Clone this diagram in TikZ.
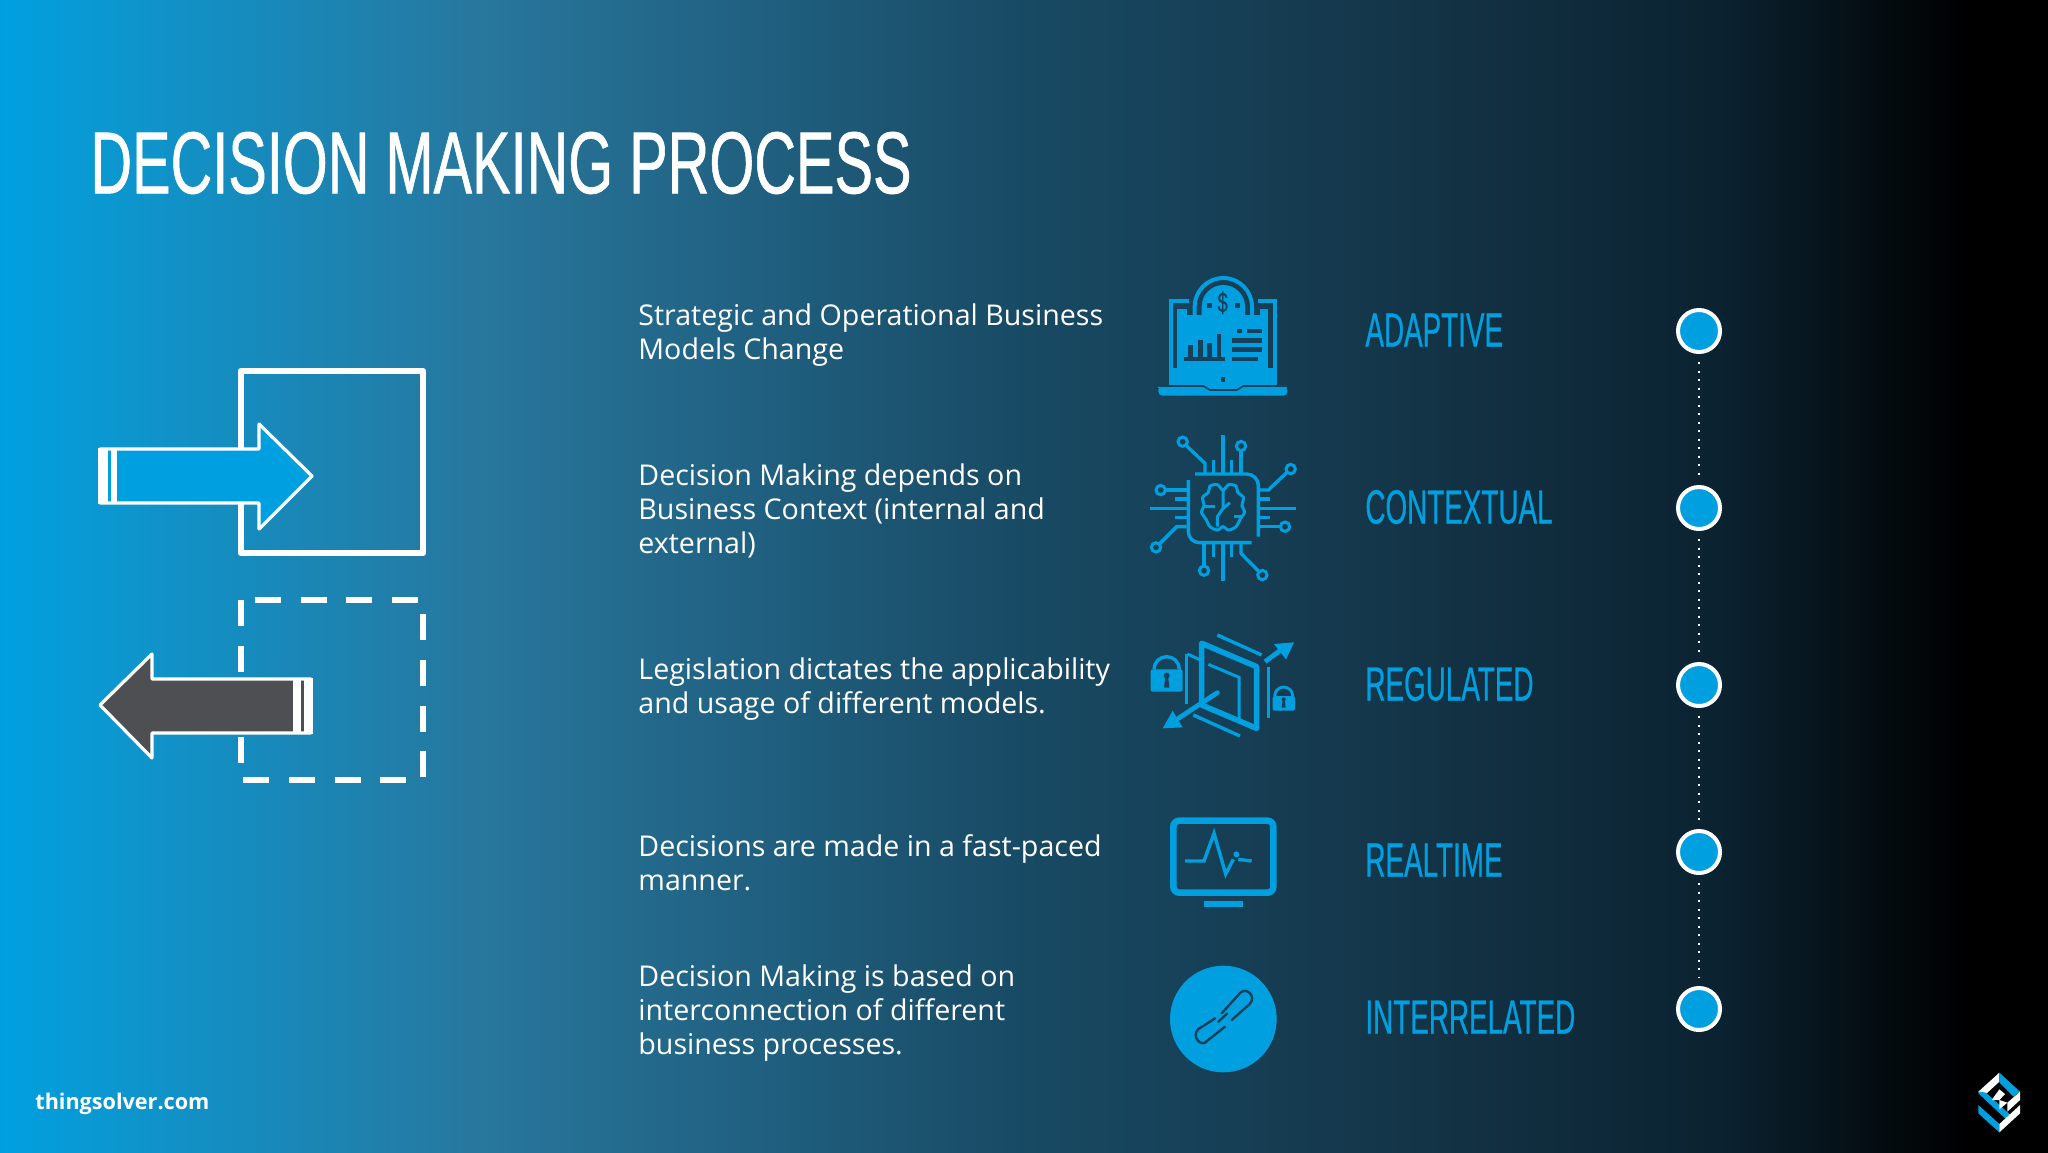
\documentclass[tikz,border=0pt]{standalone}
\usepackage{fontspec}
\setmainfont{Open Sans}
\newfontfamily\headfont[FakeStretch=0.656,FakeBold=0.6]{Liberation Sans}
\newfontfamily\tagfont[FakeStretch=0.58,FakeBold=0.5]{Liberation Sans}
\usetikzlibrary{positioning}

\definecolor{tsblue}{HTML}{00A0E0}
\definecolor{tsdark}{HTML}{17415A}
\definecolor{tsgrey}{HTML}{4D4F53}
\definecolor{bgone}{HTML}{0D96CE}
\definecolor{bgtwo}{HTML}{28769C}
\definecolor{bgthree}{HTML}{184A64}
\definecolor{bgfour}{HTML}{15384C}
\definecolor{bgfive}{HTML}{0B2230}

\pgfdeclarehorizontalshading{slidebg}{100bp}{
  color(0bp)=(tsblue);
  color(25bp)=(tsblue);
  color(28bp)=(bgone);
  color(37bp)=(bgtwo);
  color(50bp)=(bgthree);
  color(58bp)=(bgfour);
  color(67bp)=(bgfive);
  color(73bp)=(black);
  color(100bp)=(black)}

\tikzset{
  headline/.style={anchor=west, inner sep=0pt, text=white, font=\headfont\fontsize{44}{50}\selectfont},
  bodytext/.style={anchor=west, inner sep=0pt, align=left, text=white, font=\fontsize{14.3}{17}\selectfont},
  tag/.style={anchor=west, inner sep=0pt, text=tsblue, font=\tagfont\fontsize{24}{28}\selectfont},
  dot/.style={circle, draw=white, fill=tsblue, line width=2pt, minimum size=21pt, inner sep=0pt},
  dotlink/.style={white, line width=1pt, dash pattern=on 1pt off 3.25pt, shorten <=4pt, shorten >=4pt},
  iconline/.style={tsblue, line width=1.7pt},
  iconpin/.style={tsblue, line width=1.5pt, fill=none},
  arrowedge/.style={draw=white, line width=1.6pt, line join=round},
}

\begin{document}
\begin{tikzpicture}[x=.5pt, y=-.5pt]
    \useasboundingbox (0, 0) rectangle (2048, 1152);
    \shade[shading=slidebg] (0, 0) rectangle (2048, 1152);

    \node[headline] (title) at (90, 163) {DECISION MAKING PROCESS};

    % boxes and arrows
    \draw[white, line width=3.2pt, line join=round] (241, 371) rectangle (423, 553);
    \draw[white, line width=3.2pt, dash pattern=on 13pt off 9.8pt, line join=round] (241, 600) rectangle (423, 780);

    \draw[arrowedge, fill=tsblue] (100, 449) -- (259, 449) -- (259, 424) -- (312, 476) -- (259, 529) -- (259, 503) -- (100, 503) -- cycle;
    \fill[white] (98, 448) rectangle (108, 504);
    \fill[white] (111, 448) rectangle (117, 504);
    \draw[arrowedge, fill=tsgrey] (311, 679) -- (152, 679) -- (152, 654) -- (100, 705) -- (152, 758) -- (152, 733) -- (311, 733) -- cycle;
    \fill[white] (293, 678) rectangle (301, 734);
    \fill[white] (304, 678) rectangle (313, 734);

    % texts
    \node[bodytext] (txta) at (638, 335) {Strategic and Operational Business\\Models Change};
    \node[bodytext] (txtb) at (638, 511) {Decision Making depends on\\Business Context (internal and\\external)};
    \node[bodytext] (txtc) at (638, 689) {Legislation dictates the applicability\\and usage of different models.};
    \node[bodytext] (txtd) at (638, 863) {Decisions are made in a fast-paced\\manner.};
    \node[bodytext] (txte) at (638, 1013) {Decision Making is based on\\interconnection of different\\business processes.};

    \node[tag] (taga) at (1365, 330) {ADAPTIVE};
    \node[tag] (tagb) at (1365, 507) {CONTEXTUAL};
    \node[tag] (tagc) at (1365, 684) {REGULATED};
    \node[tag] (tagd) at (1365, 860) {REALTIME};
    \node[tag] (tage) at (1365, 1017) {INTERRELATED};

    \node[dot] (dota) at (1699, 331) {};
    \node[dot] (dotb) at (1699, 508) {};
    \node[dot] (dotc) at (1699, 685) {};
    \node[dot] (dotd) at (1699, 852) {};
    \node[dot] (dote) at (1699, 1009) {};
    \draw[dotlink] (dota) -- (dotb);
    \draw[dotlink] (dotb) -- (dotc);
    \draw[dotlink] (dotc) -- (dotd);
    \draw[dotlink] (dotd) -- (dote);

    % laptop
    \begin{scope}[shift={(1130, 260)}, x=.16667pt, y=-.16667pt]
      \draw[iconline, line width=2pt] (178, 124) -- (122, 124) -- (122, 378);
      \draw[iconline, line width=2pt] (383, 124) -- (436, 124) -- (436, 378);
      \fill[tsblue] (140, 148) rectangle (415, 325);
      \fill[tsblue] (116, 325) rectangle (442, 378);
      \fill[tsdark] (170, 140) rectangle (390, 170);
      \fill[tsblue] (168, 165) rectangle (392, 178);
      \draw[tsblue, line width=2pt] (194, 165) -- (194, 140) arc (180:360:86) -- (366, 165);
      \fill[tsblue] (215, 165) -- (215, 140) arc (180:360:65) -- (345, 165) -- cycle;
      \node[inner sep=0pt, text=tsdark, font=\headfont\fontsize{14}{14}\selectfont] (coin) at (278, 128) {\$};
      \fill[tsdark] (232, 130) rectangle (246, 144);
      \fill[tsdark] (315, 130) rectangle (329, 144);
      \fill[tsdark] (162, 292) rectangle (285, 303);
      \fill[tsdark] (175, 255) rectangle (188, 292);
      \fill[tsdark] (205, 240) rectangle (218, 292);
      \fill[tsdark] (232, 250) rectangle (245, 292);
      \fill[tsdark] (260, 222) rectangle (273, 292);
      \fill[tsdark] (320, 207) rectangle (335, 220);
      \fill[tsdark] (350, 207) rectangle (397, 220);
      \fill[tsdark] (307, 235) rectangle (397, 248);
      \fill[tsdark] (307, 262) rectangle (397, 275);
      \fill[tsdark] (307, 290) rectangle (383, 303);
      \fill[tsdark] (272, 352) rectangle (286, 366);
      \fill[tsblue, rounded corners=2pt] (85, 378) rectangle (472, 407);
      \fill[tsblue] (85, 378) rectangle (472, 385);
      \draw[tsdark, line width=.8pt] (85, 378) -- (220, 378) -- (240, 390) -- (320, 390) -- (340, 378) -- (472, 378);
    \end{scope}

    % chip with brain
    \begin{scope}[shift={(1130, 260)}, x=.16667pt, y=-.16667pt]
      \draw[iconline] (195, 642) -- (350, 642) arc (-90:0:35) -- (385, 830);
      \draw[iconline] (175, 660) -- (175, 815) arc (180:90:33) -- (365, 848);
      \draw[iconline] (279, 525) -- (279, 640);
      \draw[iconline] (250, 600) -- (250, 640);
      \draw[iconline] (305, 600) -- (305, 640);
      \draw[iconline] (225, 640) -- (225, 610) -- (168, 556);
      \draw[iconline] (333, 572) -- (333, 640);
      \draw[iconline] (60, 745) -- (170, 745);
      \draw[iconline] (135, 717) -- (170, 717);
      \draw[iconline] (135, 772) -- (170, 772);
      \draw[iconline] (106, 690) -- (170, 690);
      \draw[iconline] (170, 800) -- (140, 800) -- (90, 850);
      \draw[iconline] (390, 745) -- (497, 745);
      \draw[iconline] (390, 717) -- (420, 717);
      \draw[iconline] (390, 772) -- (420, 772);
      \draw[iconline] (390, 800) -- (450, 800);
      \draw[iconline] (390, 690) -- (415, 690) -- (472, 636);
      \draw[iconline] (279, 850) -- (279, 962);
      \draw[iconline] (250, 850) -- (250, 890);
      \draw[iconline] (305, 850) -- (305, 890);
      \draw[iconline] (222, 850) -- (222, 918);
      \draw[iconline] (333, 850) -- (333, 880) -- (387, 935);
      \draw[iconpin] (158, 545) circle (14);
      \draw[iconpin] (333, 558) circle (14);
      \draw[iconpin] (92, 690) circle (14);
      \draw[iconpin] (78, 862) circle (14);
      \draw[iconpin] (482, 627) circle (14);
      \draw[iconpin] (465, 800) circle (14);
      \draw[iconpin] (222, 932) circle (14);
      \draw[iconpin] (397, 945) circle (14);
      \draw[iconpin] plot[smooth cycle] coordinates {(279, 690) (262, 674) (240, 678) (235, 697) (218, 712) (222, 738) (214, 756) (228, 778) (240, 800) (262, 810) (279, 800) (296, 810) (318, 800) (330, 778) (344, 756) (336, 738) (340, 712) (323, 697) (318, 678) (296, 674)};
      \draw[iconpin] (279, 690) -- (279, 745) -- (262, 770) -- (262, 800);
      \draw[iconpin] (279, 745) -- (300, 728);
      \draw[iconpin] (222, 738) -- (255, 738);
      \draw[iconpin] (312, 770) -- (336, 770);
    \end{scope}

    % frames with locks
    \begin{scope}[shift={(1130, 620)}, x=.16667pt, y=-.16667pt]
      \fill[tsblue, rounded corners=1pt] (62, 148) rectangle (158, 215);
      \draw[tsblue, line width=1.7pt] (72, 148) arc (180:360:38);
      \fill[tsdark] (110, 167) circle (9);
      \fill[tsdark] (106, 167) -- (114, 167) -- (118, 203) -- (102, 203) -- cycle;
      \fill[tsblue, rounded corners=1pt] (428, 228) rectangle (495, 272);
      \draw[tsblue, line width=1.4pt] (434, 228) arc (180:360:27);
      \fill[tsdark] (461, 238) circle (6);
      \fill[tsdark] (458, 238) -- (464, 238) -- (467, 263) -- (455, 263) -- cycle;
      \draw[iconline] (170, 102) -- (170, 252);
      \draw[iconline, line width=1.5pt] (172, 102) -- (212, 120);
      \draw[iconline, line width=1.5pt] (235, 133) -- (327, 172) -- (327, 300);
      \draw[iconline] (190, 285) -- (330, 348);
      \draw[iconline, line width=2.8pt, line join=round] (215, 70) -- (380, 140) -- (380, 325) -- (215, 255) -- cycle;
      \draw[iconline] (262, 45) -- (395, 105);
      \draw[iconline] (415, 140) -- (415, 295);
      \draw[iconline, line width=2.4pt] (405, 125) -- (450, 92);
      \fill[tsblue] (492, 67) -- (432, 72) -- (468, 118) -- cycle;
      \draw[iconline, line width=2.4pt, line cap=round] (262, 218) -- (145, 295);
      \fill[tsblue] (98, 325) -- (158, 322) -- (128, 272) -- cycle;
    \end{scope}

    % monitor
    \begin{scope}[shift={(1130, 620)}, x=.16667pt, y=-.16667pt]
      \draw[tsblue, line width=3.3pt, rounded corners=3pt] (130, 602) rectangle (430, 818);
      \fill[tsblue] (222, 842) rectangle (338, 862);
      \draw[iconline] (165, 723) -- (222, 723) -- (252, 640) -- (287, 762) -- (310, 718);
      \fill[tsblue] (319, 703) circle (9);
      \draw[iconline] (325, 718) -- (365, 723);
    \end{scope}

    % chain
    \begin{scope}[shift={(1130, 620)}, x=.16667pt, y=-.16667pt]
      \fill[tsblue] (280, 1197) circle (160);
      \draw[tsdark, line width=1.2pt, line cap=round] (275, 1180) -- (331, 1118) .. controls (350, 1100) and (380, 1130) .. (359, 1152) -- (305, 1200);
      \draw[tsdark, line width=1.2pt, line cap=round] (255, 1195) -- (204, 1228) .. controls (183, 1250) and (215, 1285) .. (232, 1262) -- (285, 1220);
      \draw[tsdark, line width=1.2pt, line cap=round] (265, 1205) -- (292, 1180);
    \end{scope}

    % logo
    \begin{scope}[shift={(1950, 1050)}, x=.16667pt, y=-.16667pt]
      \fill[white] (85, 125) -- (148, 68) -- (148, 95) -- (110, 130) -- cycle;
      \fill[tsblue] (148, 68) -- (210, 125) -- (190, 140) -- (148, 97) -- cycle;
      \fill[white] (210, 125) -- (210, 150) -- (172, 185) -- (172, 158) -- cycle;
      \fill[tsblue] (85, 125) -- (108, 128) -- (185, 198) -- (165, 205) -- (85, 130) -- cycle;
      \fill[white] (125, 150) -- (148, 118) -- (165, 132) -- (148, 150) -- cycle;
      \fill[white] (148, 150) -- (148, 178) -- (172, 158) -- cycle;
      \fill[tsblue] (85, 165) -- (85, 190) -- (148, 247) -- (148, 222) -- cycle;
      \fill[white] (148, 247) -- (210, 190) -- (210, 165) -- (148, 222) -- cycle;
    \end{scope}

    \node[anchor=west, inner sep=0pt, text=white, font=\bfseries\fontsize{10.8}{13}\selectfont] (site) at (35, 1104) {thingsolver.com};
\end{tikzpicture}
\end{document}
